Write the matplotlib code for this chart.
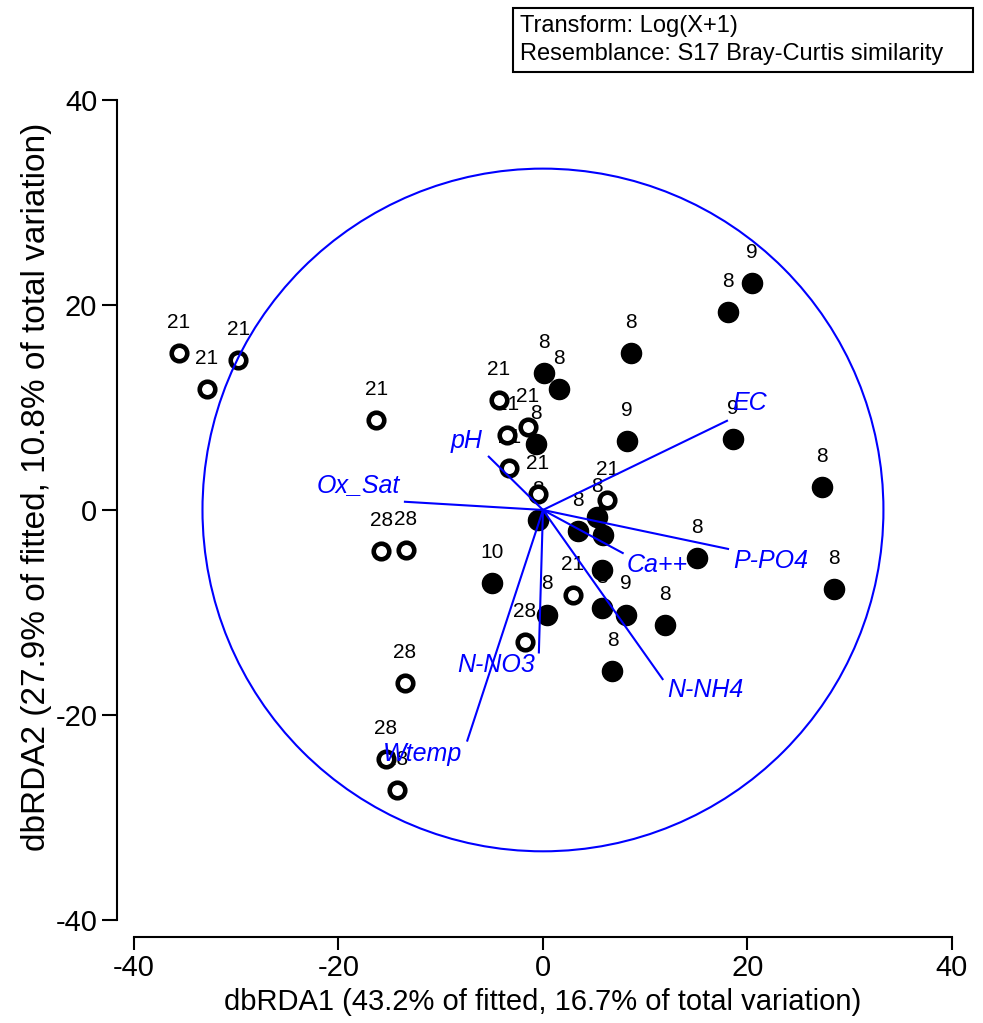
import matplotlib.pyplot as plt
from matplotlib.patches import Circle, Rectangle

plt.rcParams['font.family'] = ['Liberation Sans', 'DejaVu Sans']
plt.rcParams['axes.unicode_minus'] = False

# sample scores (dbRDA1, dbRDA2) and labels
open_x = [-35.6, -32.9, -29.8, -16.3, -15.8, -13.4, -13.5, -15.4, -14.3,
          -4.3, -3.5, -1.5, -3.3, -0.5, 6.3, 2.9, -1.8]
open_y = [15.3, 11.8, 14.6, 8.8, -4.0, -3.9, -16.9, -24.3, -27.3,
          10.7, 7.3, 8.1, 4.1, 1.6, 1.0, -8.3, -12.9]
open_lab = ['21', '21', '21', '21', '28', '28', '28', '28', '28',
            '21', '21', '21', '21', '21', '21', '21', '28']

fill_x = [0.1, 1.6, -0.7, 8.6, 8.2, 20.4, 18.1, 18.6, 27.3, 28.5, 15.1,
          -0.5, 3.4, 5.3, 5.9, 5.8, 5.8, 8.1, 11.9, 6.8, 0.4, -5.0]
fill_y = [13.4, 11.8, 6.4, 15.3, 6.7, 22.1, 19.3, 6.9, 2.2, -7.7, -4.7,
          -1.0, -2.1, -0.7, -2.4, -5.9, -9.6, -10.2, -11.2, -15.7, -10.2, -7.1]
fill_lab = ['8', '8', '8', '8', '9', '9', '8', '9', '8', '8', '8',
            '8', '8', '8', '8', '8', '8', '9', '8', '8', '8', '10']

# environmental vectors
vec_names = ['EC', 'P-PO4', 'Ca++', 'N-NH4', 'N-NO3', 'Wtemp', 'pH', 'Ox_Sat']
vec_x = [18.0, 18.1, 7.8, 11.7, -0.4, -7.4, -5.3, -13.5]
vec_y = [8.7, -3.8, -4.2, -16.5, -13.9, -22.5, 5.2, 0.8]

circle_r = 33.3

fig = plt.figure(figsize=(9.83, 10.23), dpi=100)
ax = fig.add_axes([0.1363, 0.1007, 0.8321, 0.8016])

# point labels (drawn under the markers)
for x, y, t in zip(open_x + fill_x, open_y + fill_y, open_lab + fill_lab):
    ax.annotate(t, (x, y), xytext=(0, 22), textcoords='offset points',
                ha='center', va='center', fontsize=15, color='black')

ax.plot(fill_x, fill_y, 'o', ms=14.5, color='black', zorder=3)
ax.plot(open_x, open_y, 'o', ms=11.2, mfc='white', mec='black', mew=3.3, zorder=3)

ax.add_patch(Circle((0, 0), circle_r, fill=False, ec='#0000ff', lw=1.5, zorder=4))

offsets = {
    'EC': (4, 13, 'left'),
    'P-PO4': (4, -9, 'left'),
    'Ca++': (3, -8.5, 'left'),
    'N-NH4': (3.6, -8, 'left'),
    'N-NO3': (-3, -9, 'right'),
    'Wtemp': (-3.6, -10, 'right'),
    'pH': (-4.3, 11, 'right'),
    'Ox_Sat': (-3.6, 12, 'right'),
}
for name, vx, vy in zip(vec_names, vec_x, vec_y):
    ax.plot([0, vx], [0, vy], color='#0000ff', lw=1.5, zorder=5)
    dx, dy, ha = offsets[name]
    ax.annotate(name, (vx, vy), xytext=(dx, dy), textcoords='offset points',
                ha=ha, va='center', fontsize=18, style='italic',
                color='#0000ff', zorder=6)

ax.set_xlim(-40, 40)
ax.set_ylim(-40, 40)
ax.set_xticks([-40, -20, 0, 20, 40])
ax.set_yticks([-40, -20, 0, 20, 40])
ax.spines['top'].set_visible(False)
ax.spines['right'].set_visible(False)
ax.spines['left'].set_position(('outward', 12))
ax.spines['bottom'].set_position(('outward', 12))
for s in ('left', 'bottom'):
    ax.spines[s].set_linewidth(1.5)
ax.tick_params(axis='y', direction='out', length=10.8, width=1.5, labelsize=21, pad=3.6)
ax.tick_params(axis='x', direction='out', length=9.4, width=1.5, labelsize=21, pad=3)

ax.set_xlabel('dbRDA1 (43.2% of fitted, 16.7% of total variation)', fontsize=21)
ax.xaxis.set_label_coords(0.5, -0.083)
ax.set_ylabel('dbRDA2 (27.9% of fitted, 10.8% of total variation)', fontsize=24)
ax.yaxis.set_label_coords(-0.1, 0.528)

# resemblance info box
fig.patches.append(Rectangle((513 / 983, 1 - 72 / 1023), 460 / 983, 64 / 1023,
                             transform=fig.transFigure, fill=False, ec='black', lw=1.5))
fig.text(520 / 983, 1 - 40 / 1023, 'Transform: Log(X+1)\nResemblance: S17 Bray-Curtis similarity',
         fontsize=17, ha='left', va='center', linespacing=1.3)

fig.savefig('out.png', dpi=100)
